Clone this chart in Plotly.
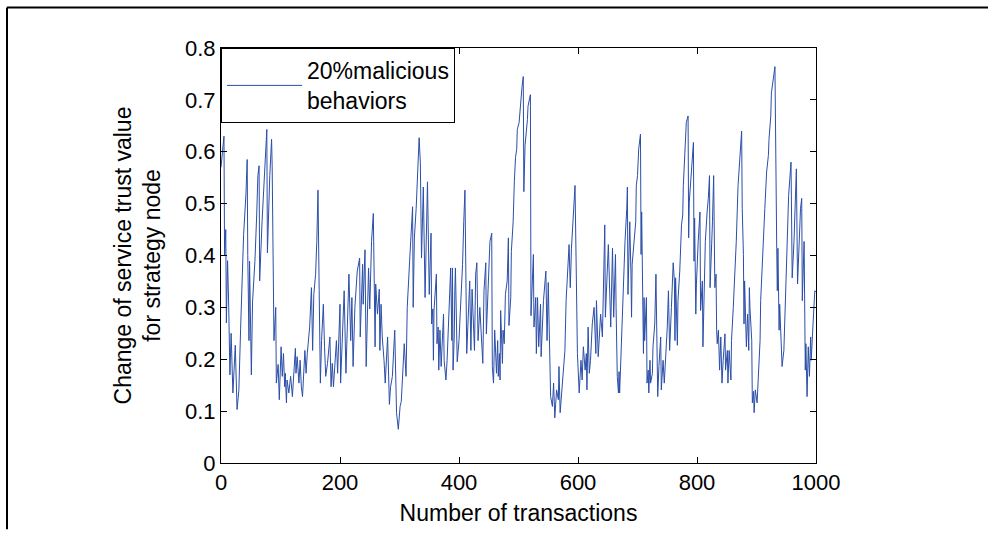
import plotly.graph_objects as go

# ---- data ----
transactions = [
    0, 2, 4, 5, 6, 8, 9, 11, 13, 15, 17, 20, 22, 24, 27, 30, 33, 34, 35, 38,
    42, 44, 45, 47, 48, 51, 53, 57, 60, 62, 64, 65, 69, 73, 75, 77, 78, 80, 82, 85,
    86, 89, 92, 93, 96, 98, 101, 103, 105, 107, 108, 110, 111, 114, 117, 120, 122, 125, 126, 128,
    131, 133, 135, 137, 141, 143, 145, 149, 152, 154, 156, 159, 161, 163, 165, 167, 169, 172, 174, 176,
    179, 183, 185, 187, 189, 192, 194, 196, 198, 200, 201, 204, 207, 210, 215, 218, 220, 222, 225, 229,
    233, 234, 238, 239, 242, 244, 248, 250, 253, 256, 259, 260, 263, 266, 267, 269, 271, 274, 276, 280,
    283, 285, 288, 292, 295, 298, 301, 303, 305, 308, 311, 313, 317, 322, 323, 325, 328, 333, 335, 337,
    340, 343, 347, 350, 353, 354, 356, 357, 358, 362, 363, 365, 366, 368, 370, 374, 375, 378, 380, 382,
    384, 386, 388, 389, 390, 392, 393, 394, 397, 400, 402, 406, 408, 410, 413, 416, 418, 420, 422, 426,
    428, 430, 432, 435, 440, 442, 445, 446, 449, 452, 455, 456, 458, 459, 460, 463, 465, 466, 468, 469,
    470, 473, 474, 476, 478, 481, 483, 484, 487, 488, 491, 493, 495, 497, 498, 501, 503, 504, 506, 508,
    509, 511, 512, 515, 516, 520, 521, 525, 526, 529, 530, 532, 534, 537, 538, 539, 542, 546, 548, 550,
    553, 554, 557, 559, 561, 564, 567, 568, 570, 572, 575, 578, 580, 582, 585, 587, 589, 595, 598, 599,
    602, 605, 607, 609, 612, 614, 615, 617, 619, 621, 624, 627, 630, 631, 634, 636, 638, 641, 644, 645,
    646, 649, 651, 655, 658, 660, 663, 664, 665, 666, 668, 669, 670, 671, 673, 674, 675, 678, 679, 682,
    683, 684, 687, 689, 690, 691, 694, 697, 698, 700, 702, 705, 706, 707, 710, 711, 712, 715, 716, 718,
    719, 721, 722, 725, 726, 729, 731, 734, 736, 738, 739, 740, 743, 745, 747, 750, 752, 754, 757, 760,
    762, 763, 764, 767, 768, 771, 774, 776, 777, 780, 782, 785, 786, 787, 789, 794, 795, 796, 798, 799,
    802, 805, 806, 809, 810, 812, 814, 817, 819, 821, 822, 826, 828, 830, 832, 833, 834, 836, 838, 840,
    842, 844, 847, 848, 851, 852, 854, 857, 858, 861, 864, 866, 869, 872, 875, 876, 878, 879, 880, 883,
    885, 887, 888, 889, 892, 893, 895, 896, 898, 901, 903, 906, 907, 910, 912, 914, 917, 920, 921, 924,
    925, 928, 931, 934, 935, 936, 938, 939, 943, 946, 948, 950, 952, 954, 958, 960, 963, 965, 967, 969,
    972, 974, 976, 977, 980, 982, 983, 985, 987, 989, 991, 992, 995, 998, 1000,
]

trust_value = [
    0.57, 0.60, 0.62, 0.63, 0.40, 0.45, 0.27, 0.39, 0.30, 0.17, 0.25, 0.135, 0.18, 0.227, 0.103, 0.14, 0.26, 0.29, 0.35, 0.44,
    0.52, 0.585, 0.40, 0.236, 0.389, 0.17, 0.31, 0.389, 0.478, 0.554, 0.573, 0.351, 0.465, 0.554, 0.60, 0.643, 0.405, 0.491, 0.554, 0.624,
    0.573, 0.236, 0.30, 0.154, 0.19, 0.122, 0.224, 0.167, 0.211, 0.147, 0.173, 0.116, 0.16, 0.135, 0.167, 0.128, 0.167, 0.221, 0.173, 0.205,
    0.154, 0.198, 0.147, 0.128, 0.217, 0.173, 0.211, 0.262, 0.338, 0.217, 0.325, 0.364, 0.427, 0.526, 0.332, 0.154, 0.236, 0.306, 0.224, 0.167,
    0.192, 0.243, 0.147, 0.192, 0.147, 0.198, 0.236, 0.173, 0.268, 0.306, 0.154, 0.230, 0.332, 0.173, 0.364, 0.236, 0.319, 0.186, 0.30, 0.37,
    0.395, 0.243, 0.383, 0.306, 0.411, 0.186, 0.376, 0.297, 0.427, 0.481, 0.224, 0.345, 0.287, 0.335, 0.217, 0.306, 0.243, 0.198, 0.154, 0.243,
    0.113, 0.147, 0.167, 0.256, 0.097, 0.065, 0.109, 0.119, 0.167, 0.230, 0.167, 0.30, 0.389, 0.494, 0.30, 0.434, 0.491, 0.627, 0.58, 0.395,
    0.532, 0.319, 0.542, 0.325, 0.443, 0.268, 0.297, 0.198, 0.294, 0.364, 0.23, 0.262, 0.179, 0.256, 0.186, 0.287, 0.198, 0.16, 0.198, 0.262,
    0.345, 0.376, 0.236, 0.376, 0.179, 0.243, 0.332, 0.376, 0.195, 0.236, 0.287, 0.383, 0.465, 0.526, 0.211, 0.319, 0.351, 0.217, 0.335, 0.217,
    0.364, 0.386, 0.236, 0.30, 0.192, 0.332, 0.386, 0.249, 0.351, 0.427, 0.443, 0.186, 0.154, 0.211, 0.256, 0.173, 0.236, 0.167, 0.211, 0.16,
    0.294, 0.192, 0.256, 0.23, 0.325, 0.351, 0.434, 0.265, 0.319, 0.408, 0.465, 0.542, 0.589, 0.605, 0.643, 0.656, 0.691, 0.71, 0.726, 0.745,
    0.523, 0.612, 0.624, 0.662, 0.688, 0.71, 0.284, 0.402, 0.262, 0.319, 0.211, 0.319, 0.224, 0.306, 0.205, 0.236, 0.313, 0.37, 0.236, 0.348,
    0.192, 0.128, 0.109, 0.154, 0.087, 0.141, 0.122, 0.186, 0.097, 0.128, 0.173, 0.217, 0.313, 0.37, 0.421, 0.338, 0.414, 0.535, 0.325, 0.211,
    0.135, 0.198, 0.16, 0.224, 0.179, 0.211, 0.141, 0.262, 0.173, 0.198, 0.268, 0.30, 0.211, 0.313, 0.205, 0.262, 0.287, 0.243, 0.414, 0.459,
    0.281, 0.364, 0.421, 0.262, 0.414, 0.281, 0.402, 0.30, 0.236, 0.167, 0.135, 0.176, 0.135, 0.173, 0.236, 0.262, 0.319, 0.402, 0.427, 0.491,
    0.532, 0.325, 0.465, 0.364, 0.281, 0.383, 0.427, 0.465, 0.535, 0.554, 0.605, 0.634, 0.402, 0.484, 0.211, 0.319, 0.236, 0.319, 0.154, 0.179,
    0.135, 0.198, 0.154, 0.173, 0.224, 0.268, 0.364, 0.128, 0.186, 0.236, 0.243, 0.141, 0.198, 0.154, 0.192, 0.262, 0.332, 0.217, 0.30, 0.386,
    0.351, 0.236, 0.357, 0.227, 0.313, 0.37, 0.459, 0.478, 0.535, 0.605, 0.656, 0.669, 0.434, 0.503, 0.542, 0.618, 0.389, 0.472, 0.287, 0.345,
    0.427, 0.484, 0.294, 0.351, 0.224, 0.319, 0.427, 0.484, 0.51, 0.554, 0.338, 0.465, 0.554, 0.338, 0.364, 0.256, 0.23, 0.256, 0.179, 0.243,
    0.154, 0.198, 0.249, 0.179, 0.217, 0.154, 0.217, 0.16, 0.236, 0.30, 0.376, 0.427, 0.535, 0.586, 0.64, 0.491, 0.402, 0.268, 0.351, 0.224,
    0.287, 0.217, 0.338, 0.30, 0.236, 0.116, 0.138, 0.097, 0.141, 0.116, 0.173, 0.236, 0.313, 0.402, 0.434, 0.491, 0.561, 0.593, 0.624, 0.669,
    0.713, 0.745, 0.764, 0.414, 0.332, 0.414, 0.256, 0.306, 0.186, 0.217, 0.30, 0.351, 0.434, 0.516, 0.58, 0.357, 0.427, 0.497, 0.567, 0.345,
    0.427, 0.491, 0.51, 0.313, 0.427, 0.179, 0.23, 0.128, 0.224, 0.167, 0.243, 0.198, 0.268, 0.332, 0.33,
]

series_name = "20%malicious<br>behaviors"
x_title = "Number of transactions"
y_title = "Change of service trust value<br>for strategy node"
x_ticks = [0, 200, 400, 600, 800, 1000]
y_ticks = [0, 0.1, 0.2, 0.3, 0.4, 0.5, 0.6, 0.7, 0.8]
y_tick_labels = ["0", "0.1", "0.2", "0.3", "0.4", "0.5", "0.6", "0.7", "0.8"]

# ---- styling ----
FONT = "Arial, Liberation Sans, Helvetica, sans-serif"
LINE_COLOR = "#2b4ea8"
W, H = 988, 534
L, R, T, B = 221, 816, 48, 467  # plot area in pixels


def px_to_paper_x(px):
    return (px - L) / (R - L)


def px_to_paper_y(py):
    return (B - py) / (B - T)


fig = go.Figure()
fig.add_trace(go.Scatter(
    x=transactions, y=trust_value, mode="lines", name=series_name,
    line=dict(color=LINE_COLOR, width=1),
))

axis_common = dict(
    showline=True, linecolor="black", linewidth=1, mirror="ticks",
    ticks="inside", ticklen=6, tickcolor="black", tickwidth=1,
    showgrid=False, zeroline=False,
    tickfont=dict(family=FONT, size=22, color="black"),
)

fig.update_xaxes(
    range=[0, 1000], tickvals=x_ticks, ticktext=[str(v) for v in x_ticks],
    title=dict(text=x_title, font=dict(family=FONT, size=23, color="black"), standoff=10),
    **axis_common,
)
fig.update_yaxes(
    range=[0, 0.8], tickvals=y_ticks, ticktext=y_tick_labels,
    title=dict(text=y_title, font=dict(family=FONT, size=23, color="black"), standoff=17),
    **axis_common,
)

# outer frame of the figure (left and top edges)
frame_l = px_to_paper_x(7)
frame_t = px_to_paper_y(7)
fig.add_shape(type="line", xref="paper", yref="paper", x0=frame_l, x1=frame_l,
              y0=px_to_paper_y(534), y1=frame_t, line=dict(color="black", width=2))
fig.add_shape(type="line", xref="paper", yref="paper", x0=frame_l, x1=px_to_paper_x(990),
              y0=frame_t, y1=frame_t, line=dict(color="black", width=2))

fig.update_layout(
    width=W, height=H,
    margin=dict(l=L, r=W - R, t=T, b=H - B),
    paper_bgcolor="white", plot_bgcolor="white",
    font=dict(family=FONT, size=22, color="black"),
    showlegend=True,
    legend=dict(
        x=0, y=1, xanchor="left", yanchor="top",
        bgcolor="white", bordercolor="black", borderwidth=1,
        font=dict(family=FONT, size=23, color="black"),
        itemwidth=75,
    ),
)

fig.write_html("out.html")
